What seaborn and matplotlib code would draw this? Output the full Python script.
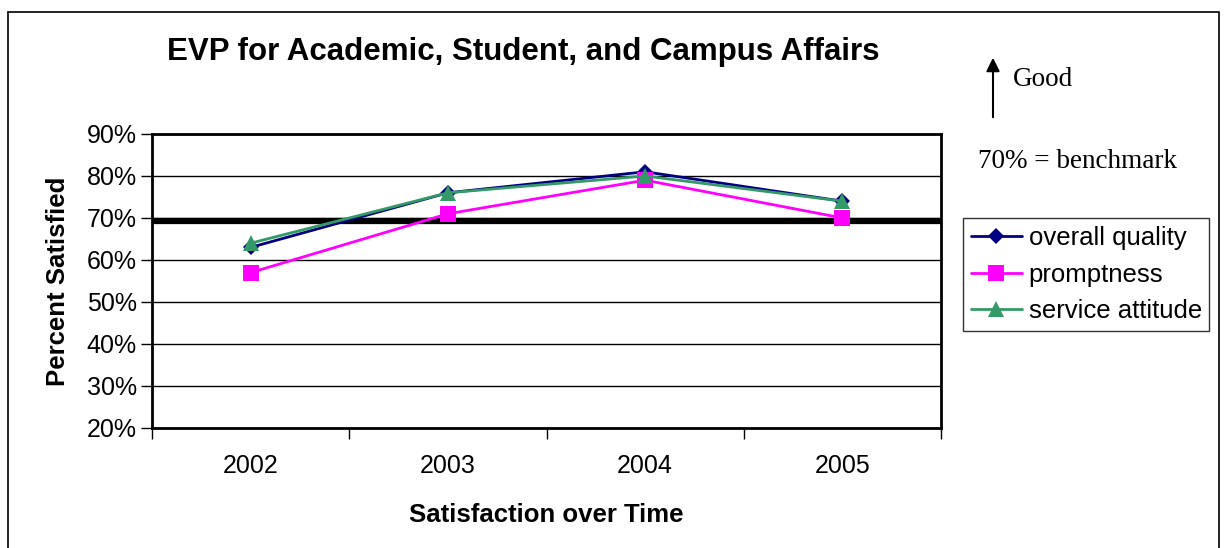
import pandas as pd
import matplotlib.pyplot as plt
import seaborn as sns
from matplotlib.patches import Rectangle
from matplotlib.ticker import PercentFormatter, FixedLocator

# datos
years = ['2002', '2003', '2004', '2005']
overall_quality = [63, 76, 81, 74]
promptness = [57, 71, 79, 70]
service_attitude = [64, 76, 80, 74]
benchmark = 69.3

series_names = ['overall quality', 'promptness', 'service attitude']
df = pd.DataFrame({
    'Year': years * 3,
    'Value': overall_quality + promptness + service_attitude,
    'Serie': [s for s in series_names for _ in years],
})

sns.set_style('white')
plt.rcParams['font.family'] = ['Liberation Sans', 'DejaVu Sans']
plt.rcParams['text.color'] = 'black'
plt.rcParams['axes.labelcolor'] = 'black'
plt.rcParams['xtick.color'] = 'black'
plt.rcParams['ytick.color'] = 'black'

fig = plt.figure(figsize=(12.25, 5.48), dpi=100)
ax = fig.add_axes([0.1241, 0.219, 0.6441, 0.5365])

palette = {'overall quality': '#000080', 'promptness': '#FF00FF', 'service attitude': '#339966'}
markers = {'overall quality': 'D', 'promptness': 's', 'service attitude': '^'}
sizes = {'overall quality': 8, 'promptness': 11, 'service attitude': 11}

ax.axhline(benchmark, color='black', lw=4.5, zorder=1)

for name in series_names:
    sns.lineplot(data=df[df['Serie'] == name], x='Year', y='Value', color=palette[name],
                 marker=markers[name], markersize=sizes[name], markeredgewidth=0,
                 lw=2, label=name, ax=ax, zorder=3)

ax.set_xlim(-0.5, 3.5)
ax.set_ylim(20, 90)
ax.set_yticks(range(20, 91, 10))
ax.yaxis.set_major_formatter(PercentFormatter(decimals=0))
ax.grid(axis='y', color='black', lw=1)
ax.xaxis.set_minor_locator(FixedLocator([-0.5, 0.5, 1.5, 2.5, 3.5]))
ax.tick_params(axis='x', which='major', length=0, pad=19, labelsize=18)
ax.tick_params(axis='x', which='minor', length=8, width=1, color='black', direction='out', bottom=True)
ax.tick_params(axis='y', length=8, width=1, color='black', direction='out', left=True, labelsize=18, pad=3)
for sp in ax.spines.values():
    sp.set_color('black')
    sp.set_linewidth(2)

ax.set_xlabel('Satisfaction over Time', fontsize=18.5, fontweight='bold', labelpad=18)
ax.set_ylabel('Percent Satisfied', fontsize=18.5, fontweight='bold', labelpad=12)

fig.text(0.427, 0.905, 'EVP for Academic, Student, and Campus Affairs', fontsize=22.5,
         fontweight='bold', ha='center', va='center')

leg = ax.legend(loc='upper left', bbox_to_anchor=(963 / 1225, 1 - 218 / 548), bbox_transform=fig.transFigure,
                frameon=True, fontsize=18.5, handlelength=2.0, handletextpad=0.25,
                borderpad=0.3, labelspacing=0.5, fancybox=False, borderaxespad=0)
leg.get_frame().set_edgecolor('black')
leg.get_frame().set_linewidth(1)

# flecha y notas de la derecha
fig.add_artist(plt.Annotation('', xy=(993 / 1225, 1 - 55 / 548), xytext=(993 / 1225, 1 - 120 / 548),
                              xycoords='figure fraction', textcoords='figure fraction',
                              arrowprops=dict(arrowstyle='-|>', color='black', lw=1.5, mutation_scale=20)))
fig.text(1013 / 1225, 1 - 80 / 548, 'Good', fontsize=19.5, family='Liberation Serif', va='center')
fig.text(978 / 1225, 1 - 162 / 548, '70% = benchmark', fontsize=19.5, family='Liberation Serif', va='center')

fig.add_artist(Rectangle((8 / 1225, -0.02), 1211 / 1225, 1.02 - 12 / 548, transform=fig.transFigure,
                         fill=False, edgecolor='black', lw=1.2))

plt.savefig('out.png', dpi=100)
